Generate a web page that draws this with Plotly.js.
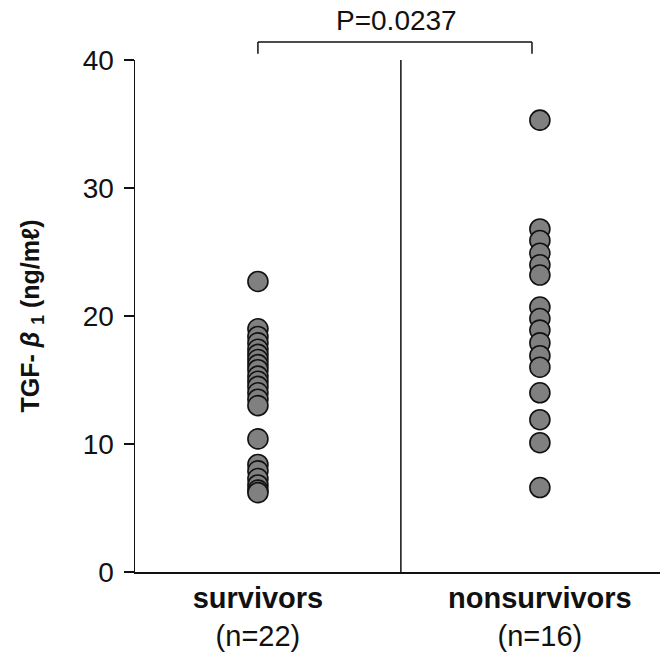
<!DOCTYPE html>
<html><head><meta charset="utf-8">
<script src="https://cdn.plot.ly/plotly-3.0.1.min.js"></script>
<style>html,body{margin:0;padding:0;background:#fff}</style>
</head><body>
<div id="chart" style="width:665px;height:659px"></div>
<script>
const categories = ["survivors", "nonsurvivors"];
const groupN = [22, 16];
const survivorsValues = [22.7, 19.0, 18.4, 17.9, 17.4, 17.0, 16.6, 16.2, 15.8, 15.3, 14.9, 14.5, 14.0, 13.5, 13.0, 10.4, 8.4, 7.9, 7.3, 6.8, 6.4, 6.2];
const nonsurvivorsValues = [35.3, 26.8, 25.9, 24.9, 24.0, 23.2, 20.7, 19.8, 18.9, 17.9, 16.9, 16.0, 14.0, 11.9, 10.1, 6.6];
const yTicks = [0, 10, 20, 30, 40];
const pValueText = "P=0.0237";

const markerStyle = {size: 20, color: '#808080', line: {color: '#111', width: 1.6}};
const traces = [
  {x: survivorsValues.map(() => 0), y: survivorsValues, type: 'scatter', mode: 'markers', marker: markerStyle, cliponaxis: false, hoverinfo: 'y'},
  {x: nonsurvivorsValues.map(() => 1), y: nonsurvivorsValues, type: 'scatter', mode: 'markers', marker: markerStyle, cliponaxis: false, hoverinfo: 'y'}
];
const lineStyle = {color: '#111', width: 1.5};
const layout = {
  width: 665, height: 659,
  margin: {l: 135, r: 5, t: 60, b: 87},
  paper_bgcolor: '#fff', plot_bgcolor: '#fff',
  showlegend: false,
  font: {family: 'Liberation Sans, Arial, sans-serif', color: '#111'},
  xaxis: {
    range: [-0.436, 1.426], tickvals: [0, 1],
    ticktext: categories.map((c, i) => '<b>' + c + '</b><br>(n=' + groupN[i] + ')'),
    tickfont: {size: 29}, ticks: '', showgrid: false, zeroline: false,
    showline: true, linecolor: '#111', linewidth: 1.5, fixedrange: true
  },
  yaxis: {
    range: [0, 40], tickvals: yTicks, ticks: 'outside', ticklen: 10, tickwidth: 1.5,
    tickcolor: '#111', tickfont: {size: 28}, showgrid: false, zeroline: false,
    showline: true, linecolor: '#111', linewidth: 1.5, ticklabelstandoff: 4,
    title: {text: '<b>TGF- <i>β</i> <sub>1</sub> (ng/mℓ)</b>', font: {size: 25}, standoff: 36}
  },
  shapes: [
    {type: 'line', xref: 'x', yref: 'paper', x0: 0.507, x1: 0.507, y0: 0, y1: 1, line: lineStyle},
    {type: 'line', xref: 'x', yref: 'paper', x0: 0, x1: 0.972, y0: 1.035, y1: 1.035, line: lineStyle},
    {type: 'line', xref: 'x', yref: 'paper', x0: 0, x1: 0, y0: 1.035, y1: 1.012, line: lineStyle},
    {type: 'line', xref: 'x', yref: 'paper', x0: 0.972, x1: 0.972, y0: 1.035, y1: 1.012, line: lineStyle}
  ],
  annotations: [
    {text: pValueText, xref: 'x', yref: 'paper', x: 0.493, y: 1.078, showarrow: false, font: {size: 28}, xanchor: 'center', yanchor: 'middle'}
  ]
};
Plotly.newPlot('chart', traces, layout, {displayModeBar: false, staticPlot: true});
</script>
</body></html>
